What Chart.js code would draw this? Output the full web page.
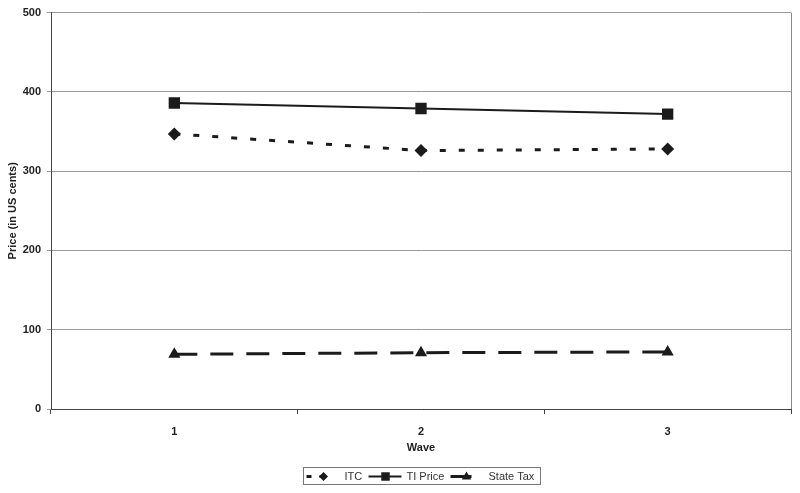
<!DOCTYPE html>
<html><head><meta charset="utf-8">
<script src="https://cdn.jsdelivr.net/npm/chart.js@4"></script>
<style>html,body{margin:0;padding:0;background:#fff}#wrap{width:800px;height:493px;position:relative}</style>
</head><body><div id="wrap"><canvas id="c" width="800" height="493"></canvas></div>
<script>
const waves = ['1', '2', '3'];
const itc = [347, 326, 328];
const tiPrice = [386, 379, 372];
const stateTax = [69, 71, 72];
const seriesNames = ['ITC', 'TI Price', 'State Tax'];
const yMin = 0, yMax = 500, yStep = 100;

const INK = '#1b1b1b';
const FONT = 'Liberation Sans, Arial, sans-serif';

function marker(ctx, style, x, y, r) {
  ctx.save();
  ctx.fillStyle = INK;
  ctx.setLineDash([]);
  ctx.beginPath();
  if (style === 'rect') {
    const s = r * Math.SQRT1_2;
    ctx.rect(x - s, y - s, 2 * s, 2 * s);
  } else if (style === 'rectRot') {
    ctx.moveTo(x, y - r); ctx.lineTo(x + r, y); ctx.lineTo(x, y + r); ctx.lineTo(x - r, y); ctx.closePath();
  } else {
    ctx.moveTo(x, y - r); ctx.lineTo(x + r * 0.95, y + r * 0.6); ctx.lineTo(x - r * 0.95, y + r * 0.6); ctx.closePath();
  }
  ctx.fill();
  ctx.restore();
}

const legendPlugin = {
  id: 'customLegend',
  afterDraw(chart) {
    const ctx = chart.ctx, ca = chart.chartArea;
    // right border of plot
    ctx.save();
    ctx.strokeStyle = '#8a8a8a'; ctx.lineWidth = 1;
    ctx.beginPath(); ctx.moveTo(Math.round(ca.right) + 0.5, ca.top); ctx.lineTo(Math.round(ca.right) + 0.5, ca.bottom); ctx.stroke();
    // legend box
    const cx = (ca.left + ca.right) / 2;
    const bw = 237, bh = 17;
    const bx = Math.round(cx - bw / 2) + 0.5, by = 467.5;
    ctx.strokeStyle = '#777';
    ctx.strokeRect(bx, by, bw, bh);
    const cy = by + bh / 2 + 0.5;
    const items = [
      {name: seriesNames[0], x0: 3, x1: 28, mx: 20, dash: [5, 8], w: 3, style: 'rectRot', r: 4.5, tx: 41},
      {name: seriesNames[1], x0: 65, x1: 98, mx: 82, dash: [], w: 2, style: 'rect', r: 6, tx: 103},
      {name: seriesNames[2], x0: 147, x1: 168, mx: 163, dash: [], w: 3, style: 'triangle', r: 5, tx: 185}
    ];
    ctx.font = '11px ' + FONT;
    ctx.textBaseline = 'middle';
    ctx.textAlign = 'left';
    for (const it of items) {
      ctx.strokeStyle = INK; ctx.lineWidth = it.w; ctx.setLineDash(it.dash);
      ctx.beginPath(); ctx.moveTo(bx + it.x0, cy); ctx.lineTo(bx + it.x1, cy); ctx.stroke();
      ctx.setLineDash([]);
      marker(ctx, it.style, bx + it.mx, cy, it.r);
      ctx.fillStyle = '#333';
      ctx.fillText(it.name, bx + it.tx, cy + 0.5);
    }
    ctx.restore();
  }
};

new Chart(document.getElementById('c'), {
  type: 'line',
  data: {
    labels: waves,
    datasets: [
      {label: seriesNames[0], data: itc, borderColor: INK, backgroundColor: INK, borderWidth: 3, borderDash: [6, 13],
       pointStyle: 'rectRot', pointRadius: 6.5, pointBorderWidth: 0, tension: 0},
      {label: seriesNames[1], data: tiPrice, borderColor: INK, backgroundColor: INK, borderWidth: 2,
       pointStyle: 'rect', pointRadius: 8, pointBorderWidth: 0, tension: 0},
      {label: seriesNames[2], data: stateTax, borderColor: INK, backgroundColor: INK, borderWidth: 3, borderDash: [23, 13],
       pointStyle: 'triangle', pointRadius: 7, pointBorderWidth: 0, tension: 0}
    ]
  },
  options: {
    responsive: false,
    animation: false,
    devicePixelRatio: 1,
    layout: {padding: {left: 0, right: 9, top: 12, bottom: 34}},
    plugins: {legend: {display: false}, tooltip: {enabled: false}},
    scales: {
      x: {
        offset: true,
        grid: {display: true, drawOnChartArea: false, drawTicks: true, tickLength: 5, color: '#444', offset: true},
        border: {color: '#444', width: 1},
        ticks: {color: '#222', font: {family: FONT, size: 11, weight: 'bold'}, padding: 11},
        title: {display: true, text: 'Wave', color: '#222', font: {family: FONT, size: 11, weight: 'bold'}, padding: {top: 4, bottom: 4}},
        afterFit(s) { s.height = 50; }
      },
      y: {
        min: yMin, max: yMax,
        ticks: {stepSize: yStep, color: '#222', font: {family: FONT, size: 11, weight: 'bold'}, padding: 6},
        grid: {color: '#999', tickLength: 4, drawTicks: true},
        border: {color: '#444', width: 1},
        title: {display: true, text: 'Price (in US cents)', color: '#222', font: {family: FONT, size: 11, weight: 'bold'}, padding: {top: 6, bottom: 4}},
        afterFit(s) { s.width = 51; }
      }
    }
  },
  plugins: [legendPlugin]
});
</script></body></html>
